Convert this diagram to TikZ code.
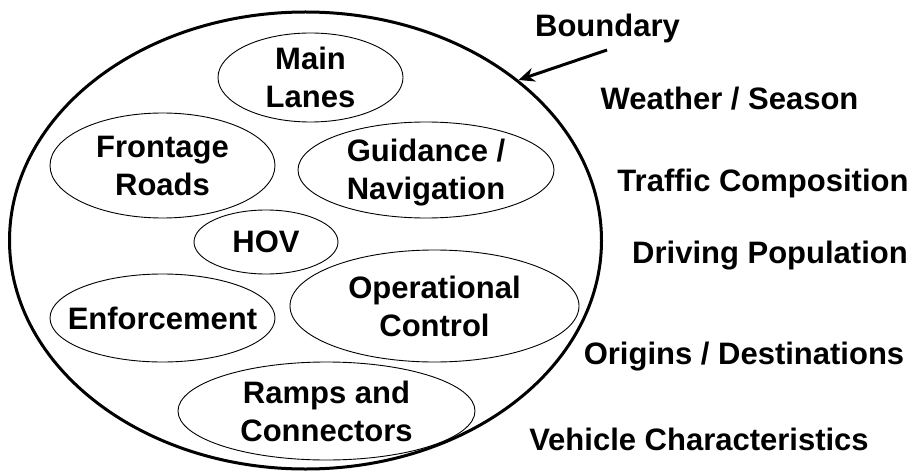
\documentclass[tikz,border=0pt]{standalone}
\usepackage{fontspec}
\setmainfont{Liberation Sans}
\usetikzlibrary{shapes.geometric,arrows.meta}
\tikzset{
	zone/.style={draw,ellipse,line width=0.9pt,inner sep=0pt},
	txt/.style={font=\bfseries\fontsize{31}{38}\selectfont,align=center,inner sep=0pt},
	factor/.style={txt,anchor=base},
}
\begin{document}
\begin{tikzpicture}[x=1pt,y=-1pt,>={Stealth[length=16pt,width=14pt]},line join=round]
	\useasboundingbox (0,0) rectangle (917,473);
	% system boundary
	\node[draw,ellipse,line width=3pt,inner sep=0pt,minimum width=592pt,minimum height=457pt] (bound) at (305.5,240.5) {};
	% elements inside the boundary
	\node[zone,minimum width=185pt,minimum height=89pt,label={[txt]center:Main\\Lanes}] (main) at (310.5,77.5) {};
	\node[zone,minimum width=225pt,minimum height=105pt,label={[txt]center:Frontage\\Roads}] (front) at (162.5,165.5) {};
	\node[zone,minimum width=256pt,minimum height=96pt,label={[txt,yshift=-3pt]center:Guidance /\\Navigation}] (guide) at (426,170) {};
	\node[zone,minimum width=144pt,minimum height=64pt,label={[txt]center:HOV}] (hov) at (266,242) {};
	\node[zone,minimum width=225pt,minimum height=88pt,label={[txt]center:Enforcement}] (enf) at (162.5,318) {};
	\node[zone,minimum width=289pt,minimum height=112pt,label={[txt]center:Operational\\Control}] (oper) at (434.5,306) {};
	\node[zone,minimum width=297pt,minimum height=98pt,label={[txt]center:Ramps and\\Connectors}] (ramps) at (326.5,411) {};
	% outside factors
	\node[factor] (bnd) at (607.5,37) {Boundary};
	\node[factor] (weather) at (729.5,110) {Weather / Season};
	\node[factor] (traffic) at (763,191) {Traffic Composition};
	\node[factor] (driving) at (770,263) {Driving Population};
	\node[factor] (origins) at (744,364) {Origins / Destinations};
	\node[factor] (vehicle) at (699,450) {Vehicle Characteristics};
	\coordinate (tail) at (607,50);
	\draw[->,line width=3pt] (tail) -- (bound.37);
\end{tikzpicture}
\end{document}
